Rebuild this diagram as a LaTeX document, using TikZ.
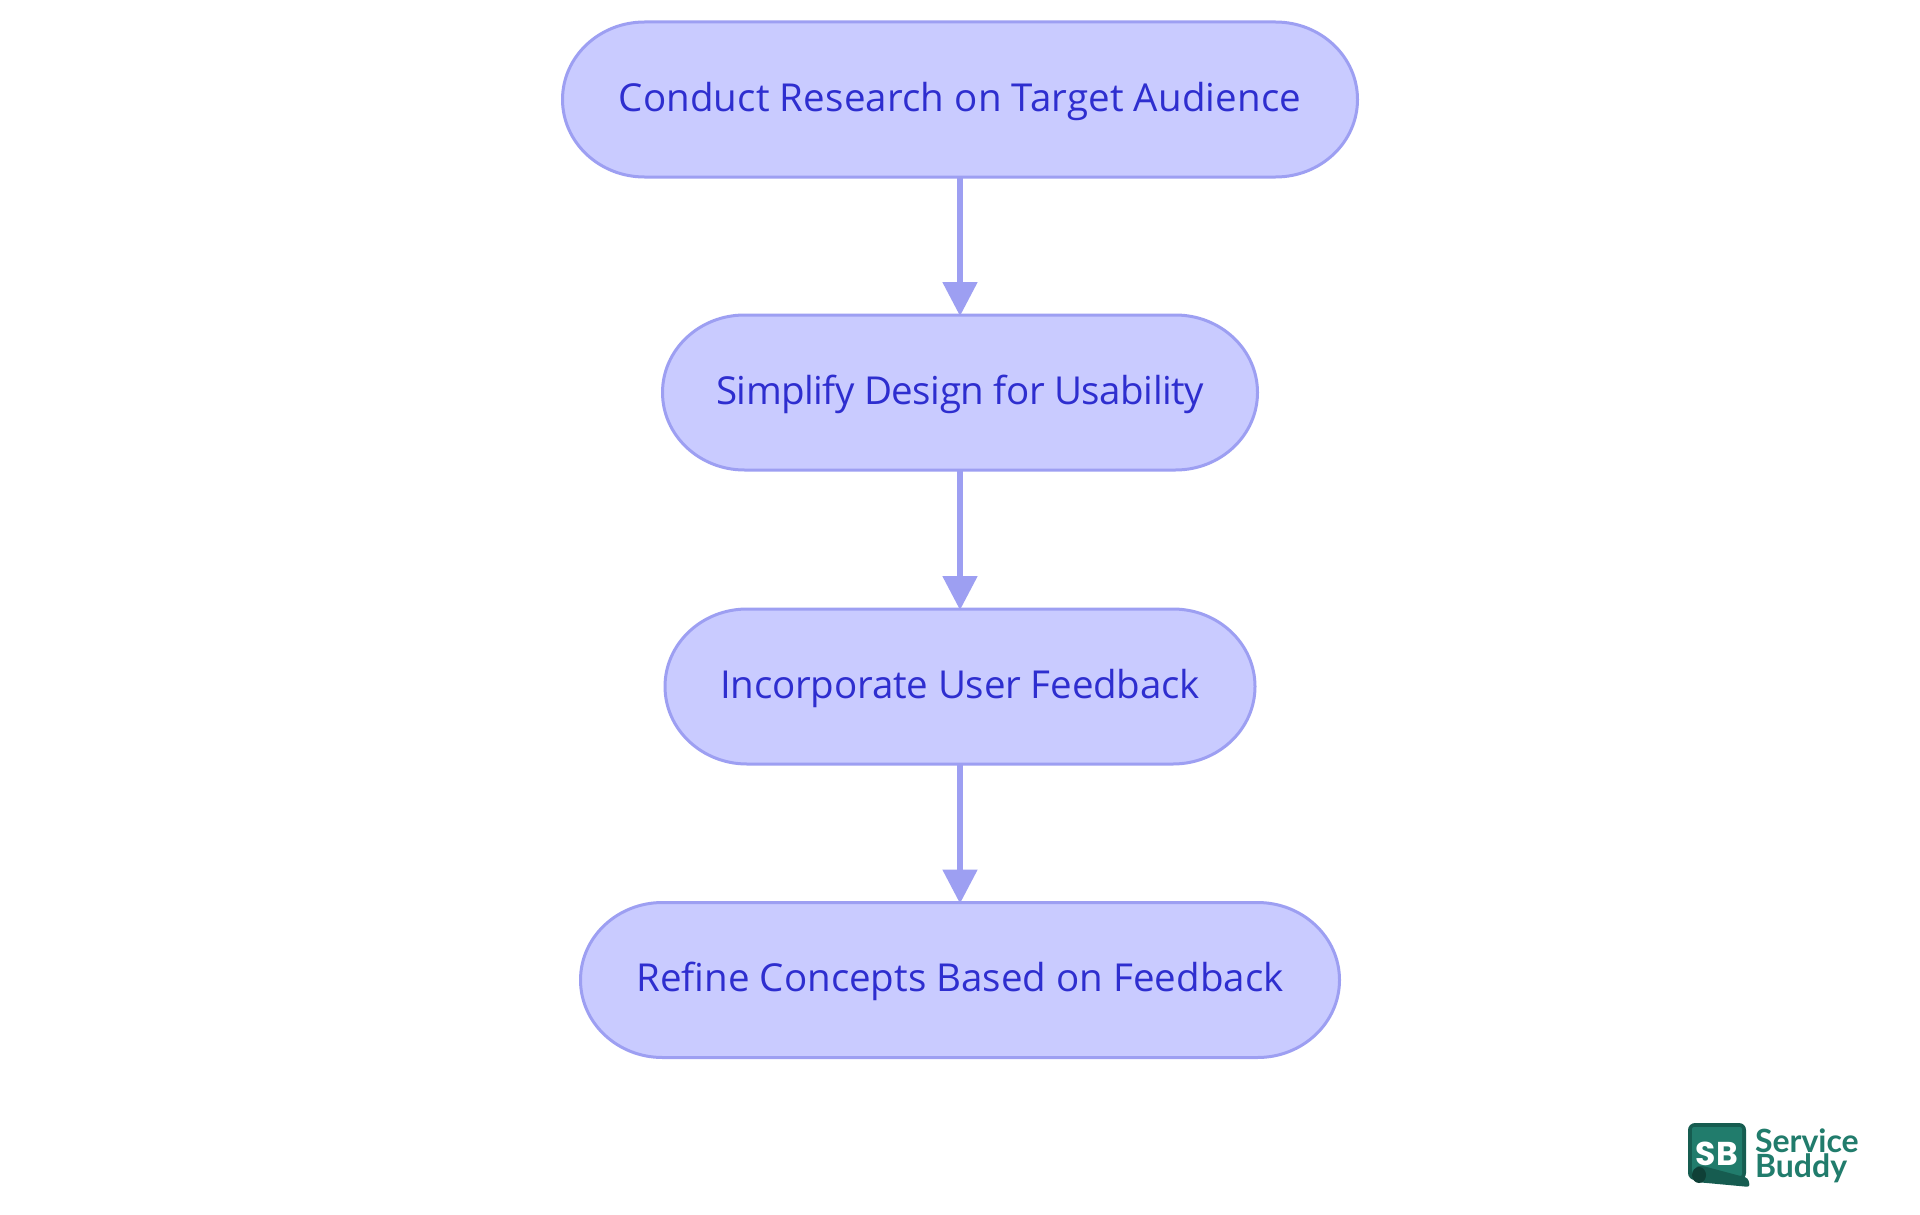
\documentclass[tikz,border=0pt]{standalone}
\usepackage{fontspec}
\setmainfont{Open Sans}
\newfontfamily\logofont{Lato}
\newfontfamily\sbfont{Poppins}
\usetikzlibrary{arrows.meta}
\definecolor{boxfill}{HTML}{C9CBFF}
\definecolor{boxline}{HTML}{9D9FF2}
\definecolor{boxtext}{HTML}{2E2ECF}
\definecolor{sbteal}{HTML}{217C6C}
\definecolor{sbdark}{HTML}{165C50}
\definecolor{sbdeep}{HTML}{0F4037}
\newdimen\sbxa \newdimen\sbxb \newdimen\sbya \newdimen\sbyb \newdimen\sbry
\makeatletter
\pgfdeclareshape{stadiumbox}{
  \inheritsavedanchors[from=rectangle]
  \inheritanchorborder[from=rectangle]
  \inheritanchor[from=rectangle]{center}
  \inheritanchor[from=rectangle]{text}
  \inheritanchor[from=rectangle]{base}
  \inheritanchor[from=rectangle]{north}
  \inheritanchor[from=rectangle]{south}
  \inheritanchor[from=rectangle]{east}
  \inheritanchor[from=rectangle]{west}
  \backgroundpath{
    \southwest \sbxa=\pgf@x \sbya=\pgf@y
    \northeast \sbxb=\pgf@x \sbyb=\pgf@y
    \sbry=\sbyb \advance\sbry by -\sbya \divide\sbry by 2
    \advance\sbxa by 82pt \advance\sbxb by -82pt
    \pgfpathmoveto{\pgfqpoint{\sbxa}{\sbyb}}
    \pgfpathlineto{\pgfqpoint{\sbxb}{\sbyb}}
    \pgfpatharc{90}{-90}{82pt and \the\sbry}
    \pgfpathlineto{\pgfqpoint{\sbxa}{\sbya}}
    \pgfpatharc{-90}{-270}{82pt and \the\sbry}
    \pgfpathclose
  }
}
\makeatother
\tikzset{
  x=1pt,y=-1pt,
  flowbox/.style={shape=stadiumbox,draw=boxline,fill=boxfill,line width=3pt,
    minimum height=155pt,outer sep=0pt,inner sep=0pt,text=boxtext,
    text height=29pt,text depth=6pt,
    font=\fontsize{38.5}{44}\selectfont},
  flowarrow/.style={draw=boxline,line width=5.3pt,
    -{Triangle[length=34pt,width=34pt,fill=boxline]},shorten >=-1pt},
  logotext/.style={anchor=base west,align=left,inner sep=0pt,outer sep=0pt,text=sbteal,
    font=\logofont\bfseries\fontsize{32}{25}\selectfont}
}
\begin{document}
\begin{tikzpicture}
\useasboundingbox (0,0) rectangle (1920,1215);
\fill[white] (0,0) rectangle (1920,1215);
\node[flowbox,minimum width=795pt] (a) at (960,99.5) {\addfontfeature{LetterSpace=0.35}Conduct Research on Target Audience};
\node[flowbox,minimum width=595pt] (b) at (960,392.5) {\addfontfeature{LetterSpace=-1.3}Simplify Design for Usability};
\node[flowbox,minimum width=590pt] (c) at (960,686.5) {\addfontfeature{LetterSpace=-0.55}Incorporate User Feedback};
\node[flowbox,minimum width=759pt] (d) at (960,980) {Refine Concepts Based on Feedback};
\draw[flowarrow] (a.south) -- (b.north);
\draw[flowarrow] (b.south) -- (c.north);
\draw[flowarrow] (c.south) -- (d.north);
% logo
\fill[sbdark,rounded corners=7pt] (1688,1123) rectangle (1746,1180);
\fill[sbteal,rounded corners=2pt] (1692,1127) rectangle (1742,1176);
\node[inner sep=0pt,outer sep=0pt,text=white,font=\sbfont\bfseries\fontsize{33}{33}\selectfont] (sb) at (1717,1153.5) {SB};
\fill[sbdark,rounded corners=3pt] (1696,1166) -- (1703,1166) -- (1748,1178) -- (1750,1187) -- (1696,1182) -- cycle;
\fill[sbdeep] (1699,1175) ellipse (7pt and 8pt);
\node[logotext] (lg) at (1755,1177) {Service\\Buddy};
\end{tikzpicture}
\end{document}
